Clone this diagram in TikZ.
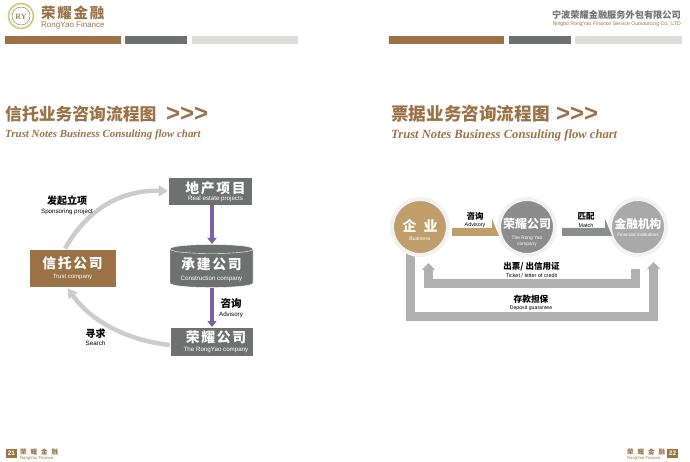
\documentclass[tikz,border=0pt]{standalone}
\usepackage{fontspec}
\setmainfont{Liberation Sans}
\newfontfamily\cjk{Noto Sans CJK SC}
\newfontfamily\cjkwide{Noto Sans CJK SC}[LetterSpace=12]
\newfontfamily\scriptlatin{Liberation Serif}
\usetikzlibrary{arrows.meta,calc}
\definecolor{rybrown}{HTML}{9A7245}
\definecolor{rygray}{HTML}{6F7170}
\definecolor{rylight}{HTML}{DEDDDB}
\definecolor{rytan}{HTML}{BF9E69}
\definecolor{rymid}{HTML}{8C8C8C}
\definecolor{rypale}{HTML}{A9A9A9}
\definecolor{rypurple}{HTML}{7F5FA0}
\definecolor{rycurve}{HTML}{CCCCCC}
\definecolor{rybar}{HTML}{B0B0B0}
\definecolor{rygold}{HTML}{D8C67A}
\tikzset{
	tightfont/.style={font=\fontsize{6}{6}\selectfont},
	flowbox/.style={tightfont,fill=rygray,draw=white,line width=0.4pt,text=white,inner sep=0pt,align=center},
	curvearrow/.style={draw=rycurve,line width=4.5pt,-{Triangle[width=11pt,length=9pt]}},
	purplearrow/.style={draw=rypurple,line width=3.5pt,-{Triangle[width=9pt,length=6pt,fill=rypurple!70!gray]}},
	bararrow/.style={draw=rybar,line width=9pt,line join=miter,-{Triangle[width=13pt,length=7pt]}},
	disc/.style={circle,fill=#1,draw=black!5,line width=4pt,minimum size=56pt,inner sep=0pt},
	zhlabel/.style={tightfont,inner sep=0pt,align=center,text=black},
	onshape/.style={zhlabel,text=white},
	heading/.style={inner sep=0pt,anchor=west,text=rybrown},
	bar/.style={inner sep=0pt,minimum height=7.5pt,anchor=north west}
}
\newcommand{\zh}[2]{{\fontsize{#1}{#1}\cjk\bfseries #2}}
\newcommand{\zhw}[2]{{\fontsize{#1}{#1}\cjkwide\bfseries #2}}
\newcommand{\en}[2]{{\fontsize{#1}{#1}\selectfont #2}}
\begin{document}
\lineskiplimit=-100pt
\begin{tikzpicture}[x=1pt,y=-1pt]
	\useasboundingbox (0,0) rectangle (690,462);
	%%%%% header %%%%%
	\draw[rygold,line width=1.6pt] (21,16) circle (12.5);
	\draw[rygold!70!black,line width=0.5pt] (21,16) circle (9);
	\node[inner sep=0pt,text=rygold!70!black] (logo) at (21,16.5) {\fontsize{8}{8}\scriptlatin\bfseries RY};
	\node[heading] (brand) at (41,13) {\zhw{14.5}{荣耀金融}};
	\node[heading] (brandsub) at (41,25) {\en{8}{RongYao Finance}};
	\node[bar,fill=rybrown,minimum width=116pt] (barone) at (5,36) {};
	\node[bar,fill=rygray,minimum width=62pt] (bartwo) at (125,36) {};
	\node[bar,fill=rylight,minimum width=106pt] (barthree) at (192,36) {};
	\node[bar,fill=rybrown,minimum width=115pt] (barfour) at (389,36) {};
	\node[bar,fill=rygray,minimum width=62pt] (barfive) at (509,36) {};
	\node[bar,fill=rylight,minimum width=107pt] (barsix) at (575,36) {};
	\node[inner sep=0pt,anchor=east,text=rygray] (firm) at (681,15) {\zh{9.2}{宁波荣耀金融服务外包有限公司}};
	\node[inner sep=0pt,anchor=east,text=rybrown] (firmsub) at (681,24) {\en{5.15}{Ningbo RongYao Finance Service Outsourcing Co., LTD}};
	%%%%% titles %%%%%
	\node[heading] (titleleft) at (5,114) {\zh{16.8}{信托业务咨询流程图}};
	\node[heading] (chevleft) at (166,114) {\fontsize{24}{24}\selectfont\bfseries >{}>{}>};
	\node[heading] (subleft) at (5,135) {\fontsize{10.9}{10.9}\scriptlatin\bfseries\itshape Trust Notes Business Consulting flow chart};
	\node[heading] (titleright) at (391,114) {\zh{17.6}{票据业务咨询流程图}};
	\node[heading] (chevright) at (556,114) {\fontsize{24}{24}\selectfont\bfseries >{}>{}>};
	\node[heading] (subright) at (391,135) {\fontsize{12.6}{12.6}\scriptlatin\bfseries\itshape Trust Notes Business Consulting flow chart};
	%%%%% left flow %%%%%
	\node[flowbox,minimum width=84pt,minimum height=28pt] (project) at (210,191) {};
	\node[onshape] (projectlabel) at (215.5,191.5) {\zhw{13.8}{地产项目}\\[1.5pt]\en{6.2}{Real estate projects}};
	\node[flowbox,fill=rybrown,minimum width=87pt,minimum height=38pt] (trust) at (72.5,268) {\zhw{13.8}{信托公司}\\[4pt]\en{6}{Trust company}};
	\draw[fill=rygray,draw=white,line width=0.4pt] (170,249) -- (170,283) .. controls (170,289) and (253,289) .. (253,283) -- (253,249) .. controls (253,243) and (170,243) .. (170,249) -- cycle;
	\draw[white,line width=0.4pt] (170,249) .. controls (170,255) and (253,255) .. (253,249);
	\node[onshape] (buildlabel) at (211.5,269.5) {\zhw{13.8}{承建公司}\\[5pt]\en{6.2}{Construction company}};
	\node[flowbox,minimum width=83pt,minimum height=29pt] (rongyao) at (211.5,341.5) {};
	\node[onshape] (rongyaolabel) at (216,341.5) {\zhw{13.8}{荣耀公司}\\[2.5pt]\en{6.2}{The RongYao company}};
	\draw[purplearrow] (project.south -| 212,0) -- (212,244) coordinate (buildtop);
	\draw[purplearrow] (212,287.5) -- (212,327) coordinate (rongtop);
	\coordinate (trustout) at (65,248.5);
	\coordinate (trustin) at (68,288.5);
	\draw[curvearrow] (trustout) .. controls (90,205) and (125,190) .. (project.west);
	\draw[curvearrow] (rongyao.west |- 0,345) .. controls (125,340) and (90,320) .. (trustin);
	\node[zhlabel] (sponsor) at (67,205.5) {\zh{10}{发起立项}\\[2.5pt]\en{6.2}{Sponsoring project}};
	\node[zhlabel] (advise) at (231,308) {\zh{10.5}{咨询}\\[2.5pt]\en{6.2}{Advisory}};
	\node[zhlabel] (search) at (95.5,337) {\zh{10}{寻求}\\[2.5pt]\en{6.2}{Search}};
	%%%%% right flow %%%%%
	\coordinate (outerstart) at (410,250);
	\coordinate (outercornerone) at (410,316.5);
	\coordinate (outercornertwo) at (653.5,316.5);
	\coordinate (outerend) at (653.5,262);
	\coordinate (innerstart) at (635,269);
	\coordinate (innercornerone) at (635,283.5);
	\coordinate (innercornertwo) at (428.5,283.5);
	\coordinate (innerend) at (428.5,263);
	\draw[bararrow] (outerstart) -- (outercornerone) -- (outercornertwo) -- (outerend);
	\draw[bararrow] (innerstart) -- (innercornerone) -- (innercornertwo) -- (innerend);
	\node[disc=rytan] (business) at (420,227) {};
	\node[onshape] (businesslabel) at (420,230) {\zh{14}{企\hspace{7pt}业}\\[3pt]\en{5.2}{Business}};
	\node[disc=rymid] (company) at (527,227) {};
	\node[onshape] (companylabel) at (527,232) {\zh{12}{荣耀公司}\\[5pt]\en{4.8}{The Rong Yao}\\\en{4.8}{company}};
	\node[disc=rypale] (bank) at (638,227) {};
	\node[onshape] (banklabel) at (638,227.5) {\zh{11.7}{金融机构}\\[2pt]\en{4.6}{Financial institutions}};
	\fill[rytan] (452,228) -- (492,228) -- (492,219) -- (499,236) -- (452,236) -- cycle;
	\fill[rygray!80] (562,228) -- (605,228) -- (605,219) -- (612,236) -- (562,236) -- cycle;
	\node[zhlabel] (advisory) at (475,220) {\zh{8.5}{咨询}\\[1.5pt]\en{5.4}{Advisory}};
	\node[zhlabel] (match) at (586,220) {\zh{8.5}{匹配}\\[1.5pt]\en{5.4}{Match}};
	\node[zhlabel] (ticket) at (531.5,270) {\zh{8.5}{出票/ 出信用证}\\[1.5pt]\en{5.4}{Ticket / letter of credit}};
	\node[zhlabel] (deposit) at (531,303) {\zh{8.7}{存款担保}\\[1.5pt]\en{5.2}{Deposit guarantee}};
	%%%%% footer %%%%%
	\node[fill=rybrown,text=white,inner sep=0pt,minimum width=11.5pt,minimum height=9.5pt] (pageleft) at (11.5,453.5) {\fontsize{6.5}{6.5}\selectfont\bfseries 21};
	\node[heading] (footleft) at (20,452) {\fontsize{6.5}{6.5}\cjk\bfseries 荣\hspace{4pt}耀\hspace{4pt}金\hspace{4pt}融};
	\node[heading] (footleftsub) at (20,458) {\en{4.2}{RongYao Finance}};
	\node[fill=rybrown,text=white,inner sep=0pt,minimum width=11.5pt,minimum height=9.5pt] (pageright) at (672.5,453.5) {\fontsize{6.5}{6.5}\selectfont\bfseries 22};
	\node[heading] (footright) at (627,452) {\fontsize{6.5}{6.5}\cjk\bfseries 荣\hspace{4pt}耀\hspace{4pt}金\hspace{4pt}融};
	\node[heading] (footrightsub) at (627,458) {\en{4.2}{RongYao Finance}};
\end{tikzpicture}
\end{document}
